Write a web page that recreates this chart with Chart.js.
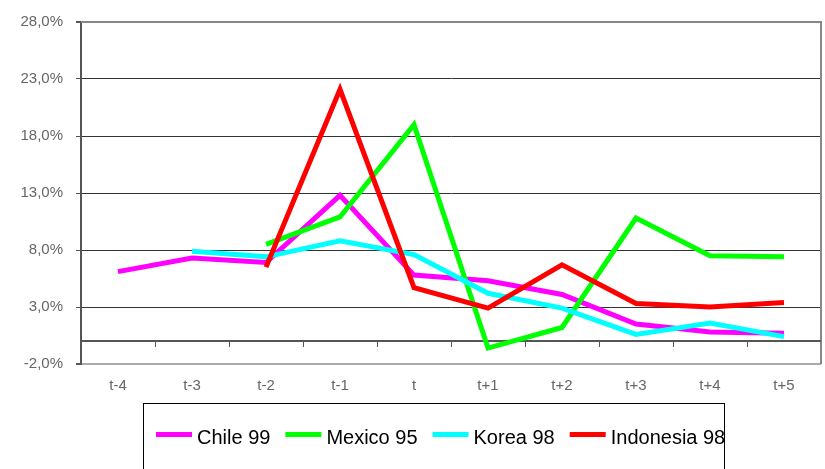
<!DOCTYPE html>
<html>
<head>
<meta charset="utf-8">
<script src="https://cdn.jsdelivr.net/npm/chart.js@4/dist/chart.umd.min.js"></script>
<style>
  html, body { margin: 0; padding: 0; background: #fff; }
  #wrap { width: 825px; height: 469px; position: relative; }
</style>
</head>
<body>
<div id="wrap"><canvas id="c"></canvas></div>
<script>
// Periods around each crisis year
const periods = ['t-4', 't-3', 't-2', 't-1', 't', 't+1', 't+2', 't+3', 't+4', 't+5'];

// Percentages per period (null = no observation)
const chile99     = [6.1, 7.3, 6.9, 12.8, 5.8, 5.3, 4.1, 1.5, 0.8, 0.7];
const mexico95    = [null, null, 8.5, 10.9, 19.0, -0.6, 1.2, 10.8, 7.5, 7.4];
const korea98     = [null, 7.9, 7.4, 8.8, 7.6, 4.2, 2.9, 0.6, 1.6, 0.4];
const indonesia98 = [null, null, 6.5, 22.1, 4.7, 2.9, 6.7, 3.3, 3.0, 3.4];

// Value axis ticks
const yTicks = [-2, 3, 8, 13, 18, 23, 28];

const seriesNames  = ['Chile 99', 'Mexico 95', 'Korea 98', 'Indonesia 98'];
const seriesValues = [chile99, mexico95, korea98, indonesia98];
const seriesColors = ['#ff00ff', '#00ff00', '#00ffff', '#ff0000'];

const FONT = '"Liberation Sans", Arial, sans-serif';

const fmtPct = v => v.toFixed(1).replace('.', ',') + '%';

// Frame, zero line with category ticks, and the boxed legend
const framePlugin = {
  id: 'frame',
  beforeDatasetsDraw(chart) {
    const { ctx, chartArea: a, scales } = chart;
    const x = scales.x, y = scales.y;
    ctx.save();
    // right and top border
    ctx.strokeStyle = '#888';
    ctx.lineWidth = 2;
    ctx.beginPath();
    ctx.moveTo(a.left, a.top);
    ctx.lineTo(a.right, a.top);
    ctx.lineTo(a.right, a.bottom);
    ctx.stroke();
    // zero line
    const y0 = Math.round(y.getPixelForValue(0));
    ctx.strokeStyle = '#555';
    ctx.lineWidth = 2;
    ctx.beginPath();
    ctx.moveTo(a.left, y0);
    ctx.lineTo(a.right, y0);
    ctx.stroke();
    // tick marks between categories
    ctx.lineWidth = 1;
    ctx.beginPath();
    for (let i = 1; i < periods.length; i++) {
      const px = Math.round((x.getPixelForValue(i - 1) + x.getPixelForValue(i)) / 2) + 0.5;
      ctx.moveTo(px, y0);
      ctx.lineTo(px, y0 + 6);
    }
    ctx.stroke();
    ctx.restore();
  },
  afterDraw(chart) {
    const { ctx } = chart;
    ctx.save();
    // legend box
    ctx.strokeStyle = '#000';
    ctx.lineWidth = 1;
    ctx.strokeRect(143.5, 403.5, 581, 80);
    // legend entries
    ctx.font = '20px ' + FONT;
    ctx.textBaseline = 'middle';
    ctx.fillStyle = '#000';
    let cx = 156;
    const cy = 437;
    chart.data.datasets.forEach(ds => {
      ctx.fillStyle = ds.borderColor;
      ctx.fillRect(cx, cy - 5, 36, 5);
      ctx.fillStyle = '#000';
      ctx.fillText(ds.label, cx + 41, cy + 1);
      cx += 41 + ctx.measureText(ds.label).width + 15;
    });
    ctx.restore();
  }
};

const datasets = seriesNames.map((name, i) => ({
  label: name,
  data: seriesValues[i],
  borderColor: seriesColors[i],
  backgroundColor: seriesColors[i],
  borderWidth: 5,
  pointRadius: 0,
  pointHoverRadius: 0,
  tension: 0,
  fill: false,
  spanGaps: false,
  borderJoinStyle: 'miter',
  borderCapStyle: 'butt',
  order: seriesNames.length - i
}));

new Chart(document.getElementById('c'), {
  type: 'line',
  data: { labels: periods, datasets },
  plugins: [framePlugin],
  options: {
    responsive: true,
    maintainAspectRatio: false,
    animation: false,
    devicePixelRatio: 1,
    layout: { padding: { top: 20, right: 4, left: 0, bottom: 0 } },
    plugins: {
      legend: { display: false },
      tooltip: { enabled: false }
    },
    scales: {
      x: {
        offset: true,
        grid: { display: false, drawTicks: false },
        border: { display: false },
        ticks: {
          color: '#666',
          font: { family: FONT, size: 15 },
          padding: 13,
          maxRotation: 0,
          autoSkip: false
        },
        afterFit(scale) { scale.height = 105; }
      },
      y: {
        min: -2,
        max: 28,
        afterBuildTicks(scale) { scale.ticks = yTicks.map(v => ({ value: v })); },
        grid: {
          drawTicks: true,
          tickLength: 5,
          tickColor: '#555',
          color(ctx) {
            const v = ctx.tick && ctx.tick.value;
            if (v === 28) return '#888';
            if (v === -2) return '#aaa';
            return '#333';
          },
          lineWidth(ctx) {
            const v = ctx.tick && ctx.tick.value;
            return (v === 28 || v === -2) ? 2 : 1;
          }
        },
        border: { display: true, color: '#555', width: 2 },
        ticks: {
          color: '#666',
          font: { family: FONT, size: 15 },
          padding: 13,
          callback: v => fmtPct(v)
        },
        afterFit(scale) { scale.width = 81; }
      }
    }
  }
});
</script>
</body>
</html>
